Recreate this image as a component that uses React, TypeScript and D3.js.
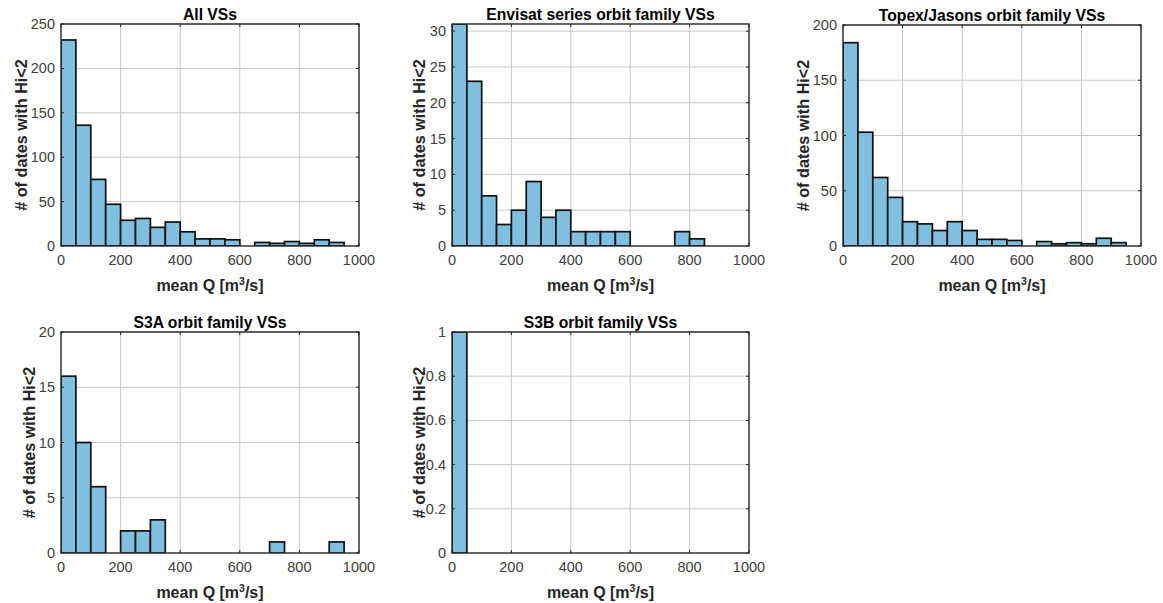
import React from "react";
import * as d3 from "d3";

// Bin edges: 0:50:1000 (m^3/s)
const binEdges = [0, 50, 100, 150, 200, 250, 300, 350, 400, 450, 500, 550, 600, 650, 700, 750, 800, 850, 900, 950, 1000];
const xTicks = [0, 200, 400, 600, 800, 1000];

const allVS = [232, 136, 75, 47, 29, 31, 21, 27, 16, 8, 8, 7, 0, 4, 3, 5, 3, 7, 4, 0];
const envisatVS = [31, 23, 7, 3, 5, 9, 4, 5, 2, 2, 2, 2, 0, 0, 0, 2, 1, 0, 0, 0];
const topexVS = [184, 103, 62, 44, 22, 20, 14, 22, 14, 6, 6, 5, 0, 4, 2, 3, 2, 7, 3, 0];
const s3aVS = [16, 10, 6, 0, 2, 2, 3, 0, 0, 0, 0, 0, 0, 0, 1, 0, 0, 0, 1, 0];
const s3bVS = [1, 0, 0, 0, 0, 0, 0, 0, 0, 0, 0, 0, 0, 0, 0, 0, 0, 0, 0, 0];

const titles = [
  "All VSs",
  "Envisat series orbit family VSs",
  "Topex/Jasons orbit family VSs",
  "S3A orbit family VSs",
  "S3B orbit family VSs",
];
const yMaxes = [250, 31, 200, 20, 1];
const yTicksList = [
  [0, 50, 100, 150, 200, 250],
  [0, 5, 10, 15, 20, 25, 30],
  [0, 50, 100, 150, 200],
  [0, 5, 10, 15, 20],
  [0, 0.2, 0.4, 0.6, 0.8, 1],
];
const seriesList = [allVS, envisatVS, topexVS, s3aVS, s3bVS];

const yLabelText = "# of dates with Hi<2";

// layout (pixels)
const layouts = [
  { left: 61, right: 359, top: 24, bottom: 246, ylx: 21 },
  { left: 452, right: 749, top: 24, bottom: 246, ylx: 419.5 },
  { left: 843, right: 1141, top: 25, bottom: 246, ylx: 803.5 },
  { left: 61, right: 359, top: 332, bottom: 553, ylx: 29 },
  { left: 452, right: 749, top: 332, bottom: 553, ylx: 419.5 },
];

const FONT = "'Liberation Sans', Arial, Helvetica, sans-serif";
const AXIS = "#262626";
const GRID = "#c8c8c8";
const FILL = "#7fbfdf";

function Panel({ idx }: { idx: number }) {
  const L = layouts[idx];
  const x = d3.scaleLinear().domain([0, 1000]).range([L.left, L.right]);
  const y = d3.scaleLinear().domain([0, yMaxes[idx]]).range([L.bottom, L.top]);
  const data = seriesList[idx];
  const yTicks = yTicksList[idx];
  const fmt = (v: number) => d3.format("~g")(v);
  const clipId = `clip${idx}`;
  const tl = 3;
  const midX = (L.left + L.right) / 2;
  const midY = (L.top + L.bottom) / 2;
  return (
    <g>
      <defs>
        <clipPath id={clipId}>
          <rect x={L.left} y={L.top} width={L.right - L.left} height={L.bottom - L.top} />
        </clipPath>
      </defs>
      <rect x={L.left} y={L.top} width={L.right - L.left} height={L.bottom - L.top} fill="#fff" />
      {/* grid */}
      {xTicks.slice(1, -1).map((t) => (
        <line key={"gx" + t} x1={x(t)} x2={x(t)} y1={L.top} y2={L.bottom} stroke={GRID} strokeWidth={1} />
      ))}
      {yTicks.slice(1).map((t) => (
        <line key={"gy" + t} x1={L.left} x2={L.right} y1={y(t)} y2={y(t)} stroke={GRID} strokeWidth={1} />
      ))}
      {/* bars */}
      <g clipPath={`url(#${clipId})`}>
        {data.map((v, i) =>
          v > 0 ? (
            <rect
              key={i}
              x={x(binEdges[i])}
              y={y(v)}
              width={x(binEdges[i + 1]) - x(binEdges[i])}
              height={y(0) - y(v)}
              fill={FILL}
              stroke="#111"
              strokeWidth={1.7}
            />
          ) : null
        )}
      </g>
      {/* box */}
      <rect x={L.left} y={L.top} width={L.right - L.left} height={L.bottom - L.top} fill="none" stroke={AXIS} strokeWidth={1.4} />
      {/* ticks */}
      {xTicks.map((t) => (
        <g key={"tx" + t}>
          <line x1={x(t)} x2={x(t)} y1={L.bottom} y2={L.bottom - tl} stroke={AXIS} />
          <line x1={x(t)} x2={x(t)} y1={L.top} y2={L.top + tl} stroke={AXIS} />
          <text x={x(t)} y={L.bottom + 19} textAnchor="middle" fontSize={14.5} fill="#404040" fontFamily={FONT}>
            {fmt(t)}
          </text>
        </g>
      ))}
      {yTicks.map((t) => (
        <g key={"ty" + t}>
          <line x1={L.left} x2={L.left + tl} y1={y(t)} y2={y(t)} stroke={AXIS} />
          <line x1={L.right} x2={L.right - tl} y1={y(t)} y2={y(t)} stroke={AXIS} />
          <text x={L.left - 6} y={y(t)} dy="0.35em" textAnchor="end" fontSize={14.5} fill="#404040" fontFamily={FONT}>
            {fmt(t)}
          </text>
        </g>
      ))}
      {/* title */}
      <text x={midX} y={L.top - 4} textAnchor="middle" fontSize={15.7} fontWeight="bold" fill="#000" fontFamily={FONT}>
        {titles[idx]}
      </text>
      {/* x label */}
      <text x={midX} y={L.bottom + 45} textAnchor="middle" fontSize={16} fontWeight="bold" fill="#262626" fontFamily={FONT}>
        <tspan>mean Q [m</tspan>
        <tspan fontSize={10.5} dy={-6.5}>3</tspan>
        <tspan dy={6.5}>/s]</tspan>
      </text>
      {/* y label */}
      <text
        transform={`translate(${L.ylx},${midY}) rotate(-90)`}
        dy="0.35em"
        textAnchor="middle"
        fontSize={16.2}
        fontWeight="bold"
        fill="#262626"
        fontFamily={FONT}
      >
        {yLabelText}
      </text>
    </g>
  );
}

export default function App() {
  return (
    <svg
      width={1163}
      height={603}
      style={{ position: "absolute", left: 0, top: 0, background: "#fff" }}
    >
      <rect x={0} y={0} width={1163} height={603} fill="#fff" />
      {titles.map((_, i) => (
        <Panel key={i} idx={i} />
      ))}
    </svg>
  );
}
